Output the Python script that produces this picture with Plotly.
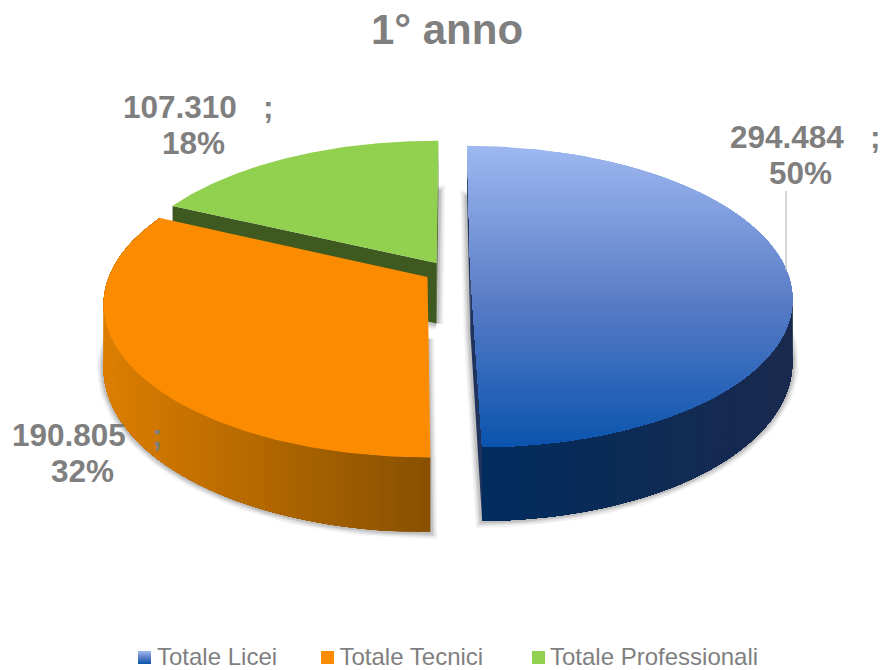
import math
import plotly.graph_objects as go

# ---- data ----
categories = ["Totale Licei", "Totale Tecnici", "Totale Professionali"]
values = [294484, 190805, 107310]
title_text = "1° anno"

# ---- styling / camera ----
W, H = 883, 670
GREY = "#7f7f7f"
FONT = "Liberation Sans, Arial, sans-serif"
CX, CY, RX, RY, K, DEPTH = 435, 270, 316, 146, 0.175, 61
START_DEG = 0.44
EXPLODE = [(0.1117, 0.0), (-0.0235, -0.0475), (0.005, 0.048)]
LABEL_POS = [(800, 137, 173), (82, 435, 471), (193, 107, 143)]
LEGEND_TEXT_X = [157, 339.5, 550]
LEGEND_Y = 656
SWATCH_X = [138, 321, 532]
SWATCH_TOP = 651
BLUE_STOPS = [(0x9e, 0xb8, 0xf0), (0x5c, 0x7e, 0xc8), (0x0a, 0x54, 0xad)]


def project(a_deg, r, ex, ey):
    a = math.radians(a_deg)
    X = r * math.sin(a) + ex
    Y = r * math.cos(a) + ey
    w = 1 + K * Y
    return CX + RX * X / w, CY - RY * Y / w, DEPTH / w


def lerp(c1, c2, t):
    t = max(0, min(1, t))
    return "rgb(%d,%d,%d)" % tuple(round(a + (b - a) * t) for a, b in zip(c1, c2))


def blue_at(t):
    if t < 0.5:
        return lerp(BLUE_STOPS[0], BLUE_STOPS[1], t * 2)
    return lerp(BLUE_STOPS[1], BLUE_STOPS[2], (t - 0.5) * 2)


def clip_below(pts, y0):
    out = []
    for i, p in enumerate(pts):
        q = pts[(i + 1) % len(pts)]
        if p[1] >= y0:
            out.append(p)
        if (p[1] >= y0) != (q[1] >= y0):
            out.append((p[0] + (q[0] - p[0]) * (y0 - p[1]) / (q[1] - p[1]), y0))
    return out


fig = go.Figure()


def poly(pts, color):
    xs = [p[0] for p in pts] + [pts[0][0]]
    ys = [p[1] for p in pts] + [pts[0][1]]
    fig.add_trace(go.Scatter(
        x=xs, y=ys, mode="lines", fill="toself", fillcolor=color,
        line=dict(color=color, width=0),
        hoverinfo="skip", showlegend=False))


total = sum(values)
edges = [START_DEG]
for v in values:
    edges.append(edges[-1] + 360 * v / total)


def sector(i, n=140):
    a0, a1 = edges[i], edges[i + 1]
    ex, ey = EXPLODE[i]
    apex = project(0, 0, ex, ey)
    rim = [project(a0 + (a1 - a0) * j / n, 1, ex, ey) for j in range(n + 1)]
    return apex, rim


def shadow(i, layers=((14, 0.04), (11, 0.05), (8, 0.07), (5, 0.10))):
    apex, rim = sector(i)
    pts = [(apex[0], apex[1] + apex[2])] + [(p[0], p[1] + p[2]) for p in rim]
    for width, alpha in layers:
        fig.add_trace(go.Scatter(
            x=[p[0] for p in pts] + [pts[0][0]], y=[p[1] for p in pts] + [pts[0][1]],
            mode="lines", line=dict(color="rgba(0,0,0,%g)" % alpha, width=width),
            hoverinfo="skip", showlegend=False))


def radial_wall(i, a_deg, color):
    ex, ey = EXPLODE[i]
    apex = project(0, 0, ex, ey)
    p = project(a_deg, 1, ex, ey)
    poly([(apex[0], apex[1]), (p[0], p[1]), (p[0], p[1] + p[2]), (apex[0], apex[1] + apex[2])], color)


def rim_wall(i, a0, a1, c0, c1, x0, x1, n=90):
    """Painter's gradient: each strip runs on to the wall's end, so no seams."""
    ex, ey = EXPLODE[i]
    for j in range(n):
        tops = [project(a0 + (a1 - a0) * m / n, 1, ex, ey) for m in range(j, n + 1, 2)]
        tops.append(project(a1, 1, ex, ey))
        pts = [(p[0], p[1]) for p in tops] + [(p[0], p[1] + p[2]) for p in reversed(tops)]
        t = (tops[0][0] - x0) / (x1 - x0)
        poly(pts, lerp(c0, c1, t))


# green (back)
shadow(2)
radial_wall(2, edges[2], "#3e5a20")
radial_wall(2, edges[3], "#3e5a20")
apex, rim = sector(2)
poly([apex] + rim, "#92d050")

# blue (right)
shadow(0)
radial_wall(0, edges[1], "#20335c")
radial_wall(0, edges[0], "#20335c")
rim_wall(0, 80, edges[1], (0x1a, 0x2a, 0x4e), (0x00, 0x2c, 0x5e), 792, 482)
apex, rim = sector(0)
outline = [(p[0], p[1]) for p in rim] + [(apex[0], apex[1])]
ys = [p[1] for p in outline]
y0, y1 = min(ys), max(ys)
BANDS = 90
for b in range(BANDS):
    ya = y0 + (y1 - y0) * b / BANDS
    piece = clip_below(outline, ya) if b else outline
    if len(piece) >= 3:
        poly(piece, blue_at((b + 0.5) / BANDS))

# orange (front-left)
shadow(1)
rim_wall(1, edges[1], edges[2], (0x88, 0x50, 0x00), (0xdc, 0x7e, 0x00), 433, 105)
apex, rim = sector(1)
poly([apex] + rim, "#fb8b00")

# leader line of the first label
fig.add_trace(go.Scatter(x=[786, 786], y=[191, 270], mode="lines",
                         line=dict(color="#c8c8c8", width=1.5),
                         hoverinfo="skip", showlegend=False))

# labels
annotations = []
for v, (lx, y1_, y2_) in zip(values, LABEL_POS):
    num = f"{v:,}".replace(",", ".") + "\u00a0\u00a0\u00a0;"
    pct = f"{round(100 * v / total)}%"
    annotations.append(dict(x=lx + 5, y=y1_, xref="x", yref="y", text="<b>" + num + "</b>",
                            showarrow=False, xanchor="center", yanchor="middle",
                            font=dict(family=FONT, size=31.5, color=GREY)))
    annotations.append(dict(x=lx, y=y2_, xref="x", yref="y", text="<b>" + pct + "</b>",
                            showarrow=False, xanchor="center", yanchor="middle",
                            font=dict(family=FONT, size=31.5, color=GREY)))

# legend: one real entry per category, placed individually
legend_colors = ["#4f79c8", "#fb8b00", "#92d050"]
legend_keys = ["legend", "legend2", "legend3"]
legends = {}
for name, col, key, tx in zip(categories, legend_colors, legend_keys, LEGEND_TEXT_X):
    fig.add_trace(go.Scatter(
        x=[None], y=[None], mode="markers", name=name, legend=key,
        marker=dict(symbol="square", size=13, color="rgba(0,0,0,0)"), showlegend=True))
    legends[key] = dict(
        x=(tx - 40) / W, y=1 - LEGEND_Y / H, xref="container", yref="container",
        xanchor="left", yanchor="middle",
        bgcolor="rgba(0,0,0,0)", borderwidth=0,
        font=dict(family=FONT, size=24, color=GREY))

# legend swatches
shapes = []
SWATCH_H = 13
for b in range(SWATCH_H):
    shapes.append(dict(type="rect", xref="x", yref="y", x0=SWATCH_X[0], x1=SWATCH_X[0] + 13,
                       y0=SWATCH_TOP + b, y1=SWATCH_TOP + 1 + b, line_width=0,
                       fillcolor=blue_at((b + .5) / SWATCH_H)))
for sx, col in zip(SWATCH_X[1:], legend_colors[1:]):
    shapes.append(dict(type="rect", xref="x", yref="y", x0=sx, x1=sx + 13,
                       y0=SWATCH_TOP, y1=SWATCH_TOP + SWATCH_H,
                       line_width=0, fillcolor=col))

fig.update_layout(
    width=W, height=H, margin=dict(l=0, r=0, t=0, b=0, autoexpand=False),
    paper_bgcolor="white", plot_bgcolor="white",
    xaxis=dict(range=[0, W], visible=False, fixedrange=True),
    yaxis=dict(range=[H, 0], visible=False, fixedrange=True),
    title=dict(text="<b>" + title_text + "</b>", x=447 / W, y=1 - 29 / H,
               xanchor="center", yanchor="middle",
               font=dict(family=FONT, size=42, color=GREY)),
    annotations=annotations, shapes=shapes, **legends)

fig.write_html("out.html", config={"displayModeBar": False},
               post_script="document.body.style.margin='0';document.body.style.overflow='hidden';")
